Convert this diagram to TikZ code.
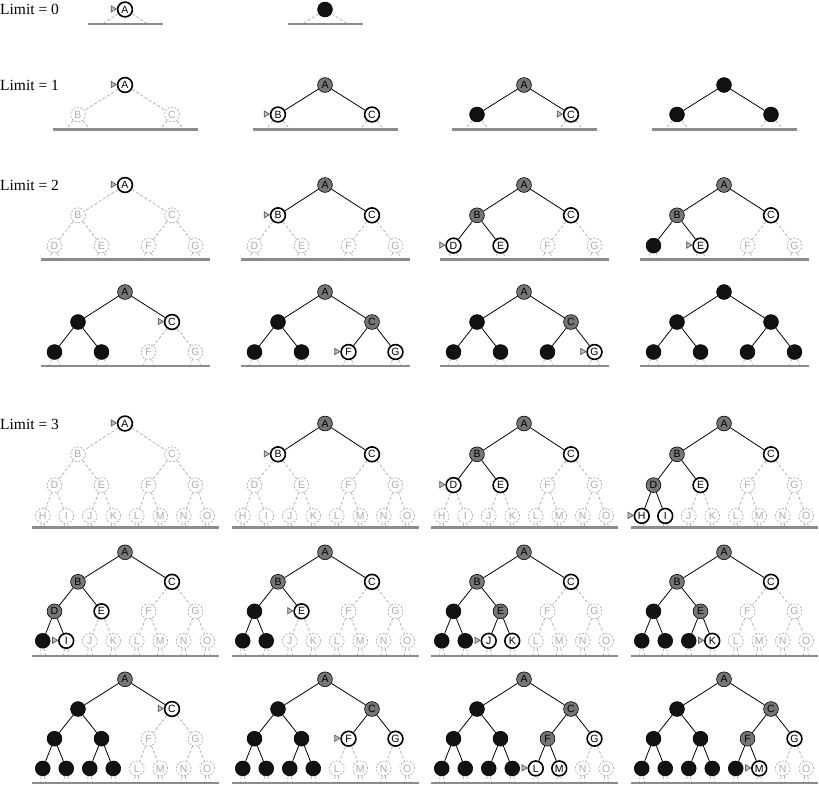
\documentclass[tikz,border=0pt]{standalone}
\usepackage{fontspec}
\setmainfont{Liberation Serif}
\newfontfamily\nodefont{Liberation Sans}
\definecolor{expgray}{HTML}{767676}
\definecolor{ungray}{HTML}{ABABAB}
\definecolor{basegray}{HTML}{8C8C8C}
\tikzset{
  nd/.style={circle, minimum size=14.8pt, inner sep=0pt, font=\nodefont\fontsize{10.5}{10.5}\selectfont},
  nd-u/.style={nd, draw=ungray, dash pattern=on 2pt off 1.5pt, text=ungray, line width=0.7pt},
  nd-f/.style={nd, draw=black, fill=white, line width=1.6pt},
  nd-c/.style={nd-f},
  nd-e/.style={nd, draw=black, fill=expgray, line width=0.6pt},
  nd-d/.style={nd, draw=black, fill=black!93, line width=0.6pt},
  edge-u/.style={draw=ungray, dash pattern=on 3pt off 2pt, line width=0.7pt},
  edge-f/.style={draw=black, line width=0.8pt},
  edge-c/.style={edge-f}, edge-e/.style={edge-f}, edge-d/.style={edge-f},
  stub/.style={edge-u},
  base/.style={draw=basegray, line width=2.2pt},
  marker/.style={draw=black!65, fill=black!25, line width=0.7pt, line join=miter},
  lim/.style={inner sep=0pt, anchor=base west, font=\fontsize{15.5}{17}\selectfont},
}
% #1 id, #2 x root, #3 y root, #4 level step, #5 baseline y, #6 depth, #7 states
\newcommand\panel[7]{%
  \foreach \s [count=\k] in {#7}{\expandafter\xdef\csname ids@\k\endcsname{\s}}%
  \pgfmathtruncatemacro\nn{2^(#6+1)-1}%
  \foreach \k in {1,...,\nn}{%
    \pgfmathtruncatemacro\lv{(\k>1)+(\k>3)+(\k>7)}%
    \pgfmathsetmacro\px{#2+(\k-2^\lv-(2^\lv-1)/2)*188/2^\lv}%
    \pgfmathsetmacro\py{#3+\lv*#4}%
    \edef\st{\csname ids@\k\endcsname}%
    \pgfmathtruncatemacro\code{64+\k}%
    \node[nd-\st] (#1-\k) at (\px,\py) {\if d\st\else\char\code\relax\fi};
    \if c\st
      \draw[marker] ({\px-8.6},{\py-0.5}) -- ({\px-13.8},{\py-3.6}) -- ({\px-13.8},{\py+2.6}) -- cycle;
    \fi
  }%
  \ifnum#6>0
  \foreach \k in {2,...,\nn}{%
    \pgfmathtruncatemacro\pa{floor(\k/2)}%
    \edef\st{\csname ids@\k\endcsname}%
    \draw[edge-\st] (#1-\pa) -- (#1-\k);
  }%
  \fi
  \begin{scope}
    \clip ({#2-110},{#3-12}) rectangle ({#2+110},{#5});
    \pgfmathtruncatemacro\lo{2^#6}%
    \pgfmathtruncatemacro\hi{2^(#6+1)-1}%
    \pgfmathtruncatemacro\lw{#6+1}%
    \foreach \k in {\lo,...,\hi}{%
      \foreach \m in {0,1}{%
        \pgfmathtruncatemacro\ci{2*\k+\m}%
        \pgfmathsetmacro\px{#2+(\ci-2^\lw-(2^\lw-1)/2)*188/2^\lw}%
        \pgfmathsetmacro\py{#3+\lw*#4}%
        \coordinate (#1-s\ci) at (\px,\py);
        \draw[stub] (#1-\k) -- (#1-s\ci);
      }%
    }%
  \end{scope}
  \ifcase#6\def\hw{37.5}\or\def\hw{72.5}\or\def\hw{84.5}\or\def\hw{93.5}\fi
  \draw[base] ({#2-\hw},#5) -- ({#2+\hw},#5);
}
\begin{document}
\begin{tikzpicture}[x=1pt,y=-1pt]
\useasboundingbox (0,0) rectangle (819,785);
% labels
\node[lim] (l0) at (0,14.5) {Limit = 0};
\node[lim] (l1) at (0,90.5) {Limit = 1};
\node[lim] (l2) at (0,190.5) {Limit = 2};
\node[lim] (l3) at (0,429) {Limit = 3};
% Limit 0
\panel{ra}{125}{9.5}{30}{24}{0}{c}
\panel{rb}{325}{9.5}{30}{24}{0}{d}
% Limit 1
\panel{sa}{125}{85}{29.5}{129.5}{1}{c,u,u}
\panel{sb}{325}{85}{29.5}{129.5}{1}{e,c,f}
\panel{sc}{524}{85}{29.5}{129.5}{1}{e,d,c}
\panel{sd}{724}{85}{29.5}{129.5}{1}{d,d,d}
% Limit 2
\panel{ta}{125}{185}{30.3}{259.5}{2}{c,u,u,u,u,u,u}
\panel{tb}{325}{185}{30.3}{259.5}{2}{e,c,f,u,u,u,u}
\panel{tc}{524}{185}{30.3}{259.5}{2}{e,e,f,c,f,u,u}
\panel{td}{724}{185}{30.3}{259.5}{2}{e,e,f,d,c,u,u}
\panel{ua}{125}{292}{30}{366}{2}{e,d,c,d,d,u,u}
\panel{ub}{325}{292}{30}{366}{2}{e,d,e,d,d,c,f}
\panel{uc}{524}{292}{30}{366}{2}{e,d,e,d,d,d,c}
\panel{ud}{724}{292}{30}{366}{2}{d,d,d,d,d,d,d}
% Limit 3
\panel{va}{125}{423.5}{30.8}{527.5}{3}{c,u,u,u,u,u,u,u,u,u,u,u,u,u,u}
\panel{vb}{325}{423.5}{30.8}{527.5}{3}{e,c,f,u,u,u,u,u,u,u,u,u,u,u,u}
\panel{vc}{524}{423.5}{30.8}{527.5}{3}{e,e,f,c,f,u,u,u,u,u,u,u,u,u,u}
\panel{vd}{724}{423.5}{30.8}{527.5}{3}{e,e,f,e,f,u,u,c,f,u,u,u,u,u,u}
\panel{wa}{125}{552.3}{29.5}{656}{3}{e,e,f,e,f,u,u,d,c,u,u,u,u,u,u}
\panel{wb}{325}{552.3}{29.5}{656}{3}{e,e,f,d,c,u,u,d,d,u,u,u,u,u,u}
\panel{wc}{524}{552.3}{29.5}{656}{3}{e,e,f,d,e,u,u,d,d,c,f,u,u,u,u}
\panel{wd}{724}{552.3}{29.5}{656}{3}{e,e,f,d,e,u,u,d,d,d,c,u,u,u,u}
\panel{xa}{125}{679.3}{29.7}{783}{3}{e,d,c,d,d,u,u,d,d,d,d,u,u,u,u}
\panel{xb}{325}{679.3}{29.7}{783}{3}{e,d,e,d,d,c,f,d,d,d,d,u,u,u,u}
\panel{xc}{524}{679.3}{29.7}{783}{3}{e,d,e,d,d,e,f,d,d,d,d,c,f,u,u}
\panel{xd}{724}{679.3}{29.7}{783}{3}{e,d,e,d,d,e,f,d,d,d,d,d,c,u,u}
\end{tikzpicture}
\end{document}
